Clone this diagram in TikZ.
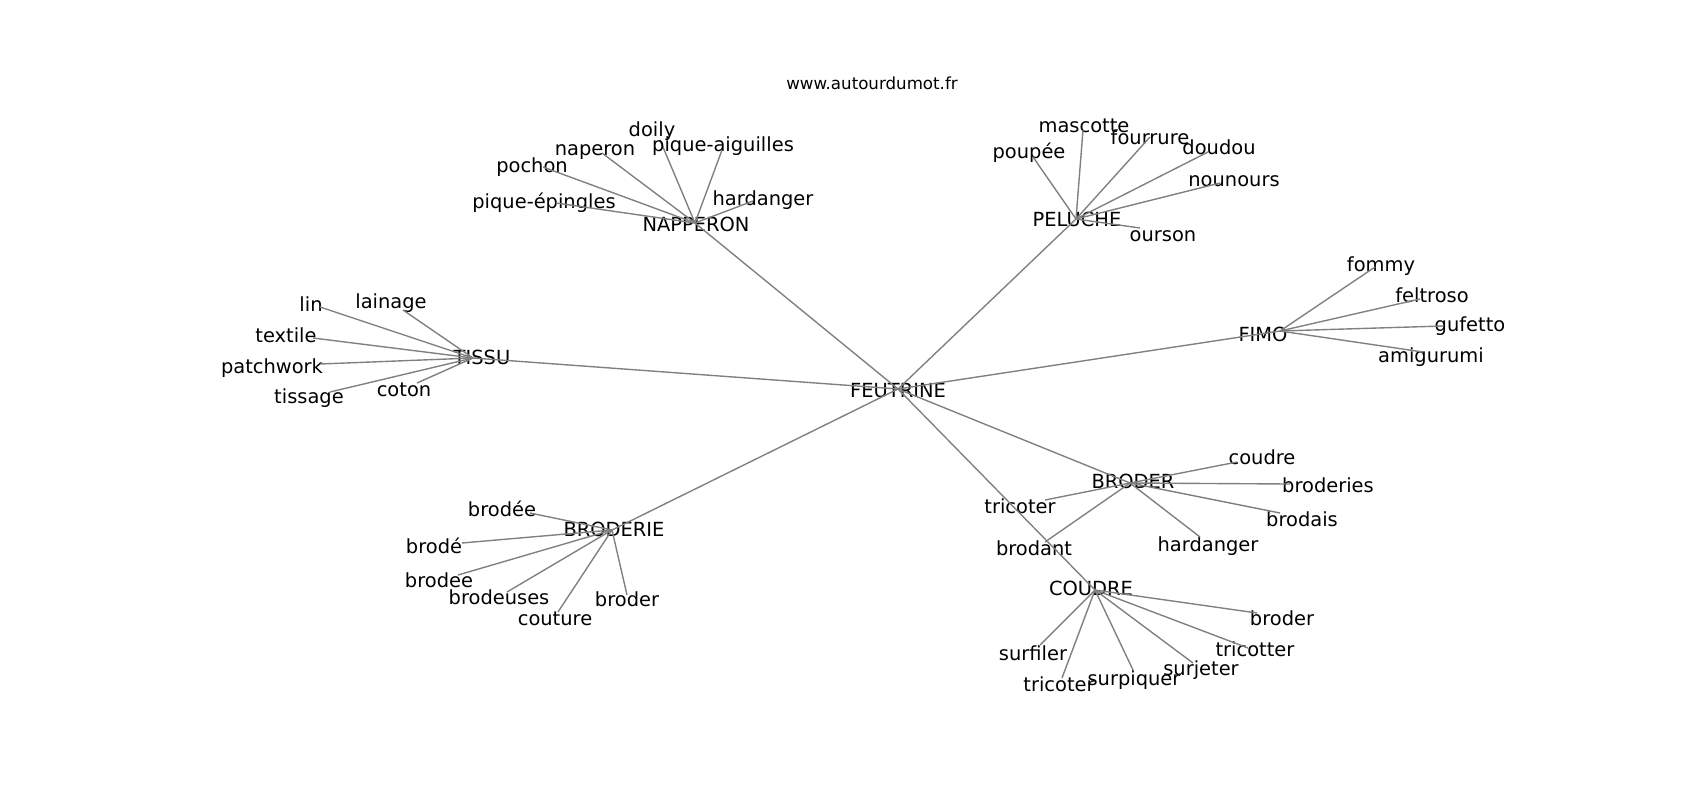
\documentclass[tikz,border=0pt]{standalone}
\usepackage{fontspec}
\setmainfont{DejaVu Sans}
\begin{document}
\begin{tikzpicture}[x=0.72pt, y=-0.72pt,
  word/.style={inner sep=0pt, text height=0.76em, text depth=0pt, yshift=-2.2pt, font=\fontsize{14}{16}\selectfont},
  link/.style={draw=black!50, line width=1pt}]
\useasboundingbox (0,0) rectangle (1700,800);
\node[inner sep=0pt, font=\fontsize{12}{14}\selectfont] (site) at (872,83) {www.autourdumot.fr};
% centre
\coordinate (feutrine) at (898,389);
\node[word] (feutrine-t) at (898,389) {FEUTRINE};
% napperon
\coordinate (napperon) at (695,223);
\node[word] (napperon-t) at (696,223) {NAPPERON};
\coordinate (piqueep) at (556,203);
\node[word] (piqueep-t) at (544,200) {pique-épingles};
\draw[link](napperon) -- (piqueep);
\coordinate (pochon) at (543,167);
\node[word] (pochon-t) at (532,164) {pochon};
\draw[link](napperon) -- (pochon);
\coordinate (naperon) at (602,153);
\node[word] (naperon-t) at (595,147) {naperon};
\draw[link](napperon) -- (naperon);
\coordinate (doily) at (660,140);
\node[word] (doily-t) at (652,128) {doily};
\draw[link](napperon) -- (doily);
\coordinate (piqueai) at (722,150);
\node[word] (piqueai-t) at (723,143) {pique-aiguilles};
\draw[link](napperon) -- (piqueai);
\coordinate (hardanger1) at (753,201);
\node[word] (hardanger1-t) at (763,197) {hardanger};
\draw[link](napperon) -- (hardanger1);
\draw[link](feutrine) -- (napperon);
% peluche
\coordinate (peluche) at (1076,219);
\node[word] (peluche-t) at (1077,218) {PELUCHE};
\coordinate (poupee) at (1033,157);
\node[word] (poupee-t) at (1029,150) {poupée};
\draw[link](peluche) -- (poupee);
\coordinate (mascotte) at (1083,130);
\node[word] (mascotte-t) at (1084,124) {mascotte};
\draw[link](peluche) -- (mascotte);
\coordinate (fourrure) at (1150,137);
\node[word] (fourrure-t) at (1150,136) {fourrure};
\draw[link](peluche) -- (fourrure);
\coordinate (doudou) at (1208,152);
\node[word] (doudou-t) at (1219,146) {doudou};
\draw[link](peluche) -- (doudou);
\coordinate (nounours) at (1220,183);
\node[word] (nounours-t) at (1234,178) {nounours};
\draw[link](peluche) -- (nounours);
\coordinate (ourson) at (1140,228);
\node[word] (ourson-t) at (1163,233) {ourson};
\draw[link](peluche) -- (ourson);
\draw[link](feutrine) -- (peluche);
% tissu
\coordinate (tissu) at (473,358);
\node[word] (tissu-t) at (482,356) {TISSU};
\coordinate (lin) at (320,307);
\node[word] (lin-t) at (311,303) {lin};
\draw[link](tissu) -- (lin);
\coordinate (lainage) at (403,310);
\node[word] (lainage-t) at (391,300) {lainage};
\draw[link](tissu) -- (lainage);
\coordinate (textile) at (313,338);
\node[word] (textile-t) at (286,334) {textile};
\draw[link](tissu) -- (textile);
\coordinate (patchwork) at (320,364);
\node[word] (patchwork-t) at (272,365) {patchwork};
\draw[link](tissu) -- (patchwork);
\coordinate (tissage) at (330,392);
\node[word] (tissage-t) at (309,395) {tissage};
\draw[link](tissu) -- (tissage);
\coordinate (coton) at (417,383);
\node[word] (coton-t) at (404,388) {coton};
\draw[link](tissu) -- (coton);
\draw[link](feutrine) -- (tissu);
% fimo
\coordinate (fimo) at (1280,331);
\node[word] (fimo-t) at (1263,333) {FIMO};
\coordinate (fommy) at (1375,267);
\node[word] (fommy-t) at (1381,263) {fommy};
\draw[link](fimo) -- (fommy);
\coordinate (feltroso) at (1420,299);
\node[word] (feltroso-t) at (1432,294) {feltroso};
\draw[link](fimo) -- (feltroso);
\coordinate (gufetto) at (1443,326);
\node[word] (gufetto-t) at (1470,323) {gufetto};
\draw[link](fimo) -- (gufetto);
\coordinate (amigurumi) at (1423,352);
\node[word] (amigurumi-t) at (1431,354) {amigurumi};
\draw[link](fimo) -- (amigurumi);
\draw[link](feutrine) -- (fimo);
% broderie
\coordinate (broderie) at (612,530);
\node[word] (broderie-t) at (614,528) {BRODERIE};
\coordinate (brodeee) at (530,513);
\node[word] (brodeee-t) at (502,508) {brodée};
\draw[link](broderie) -- (brodeee);
\coordinate (brodeacc) at (462,543);
\node[word] (brodeacc-t) at (434,545) {brodé};
\draw[link](broderie) -- (brodeacc);
\coordinate (brodee) at (458,575);
\node[word] (brodee-t) at (439,579) {brodee};
\draw[link](broderie) -- (brodee);
\coordinate (brodeuses) at (507,592);
\node[word] (brodeuses-t) at (499,596) {brodeuses};
\draw[link](broderie) -- (brodeuses);
\coordinate (couture) at (558,612);
\node[word] (couture-t) at (555,617) {couture};
\draw[link](broderie) -- (couture);
\coordinate (broder1) at (627,595);
\node[word] (broder1-t) at (627,598) {broder};
\draw[link](broderie) -- (broder1);
\draw[link](feutrine) -- (broderie);
% broder
\coordinate (broder) at (1130,483);
\node[word] (broder-t) at (1133,480) {BRODER};
\coordinate (coudre) at (1237,462);
\node[word] (coudre-t) at (1262,456) {coudre};
\draw[link](broder) -- (coudre);
\coordinate (broderies) at (1290,484);
\node[word] (broderies-t) at (1328,484) {broderies};
\draw[link](broder) -- (broderies);
\coordinate (brodais) at (1280,513);
\node[word] (brodais-t) at (1302,518) {brodais};
\draw[link](broder) -- (brodais);
\coordinate (hardanger2) at (1200,537);
\node[word] (hardanger2-t) at (1208,543) {hardanger};
\draw[link](broder) -- (hardanger2);
\coordinate (tricoter1) at (1045,500);
\node[word] (tricoter1-t) at (1020,505) {tricoter};
\draw[link](broder) -- (tricoter1);
\coordinate (brodant) at (1045,542);
\node[word] (brodant-t) at (1034,547) {brodant};
\draw[link](broder) -- (brodant);
\draw[link](feutrine) -- (broder);
% coudre
\coordinate (coudrehub) at (1095,590);
\node[word] (coudrehub-t) at (1091,587) {COUDRE};
\coordinate (broder2) at (1257,613);
\node[word] (broder2-t) at (1282,617) {broder};
\draw[link](coudrehub) -- (broder2);
\coordinate (tricotter) at (1248,648);
\node[word] (tricotter-t) at (1255,648) {tricotter};
\draw[link](coudrehub) -- (tricotter);
\coordinate (surjeter) at (1193,663);
\node[word] (surjeter-t) at (1201,667) {surjeter};
\draw[link](coudrehub) -- (surjeter);
\coordinate (surpiquer) at (1133,670);
\node[word] (surpiquer-t) at (1134,677) {surpiquer};
\draw[link](coudrehub) -- (surpiquer);
\coordinate (tricoter2) at (1062,678);
\node[word] (tricoter2-t) at (1059,683) {tricoter};
\draw[link](coudrehub) -- (tricoter2);
\coordinate (surfiler) at (1040,645);
\node[word] (surfiler-t) at (1033,652) {surfiler};
\draw[link](coudrehub) -- (surfiler);
\draw[link](feutrine) -- (coudrehub);
\end{tikzpicture}
\end{document}
